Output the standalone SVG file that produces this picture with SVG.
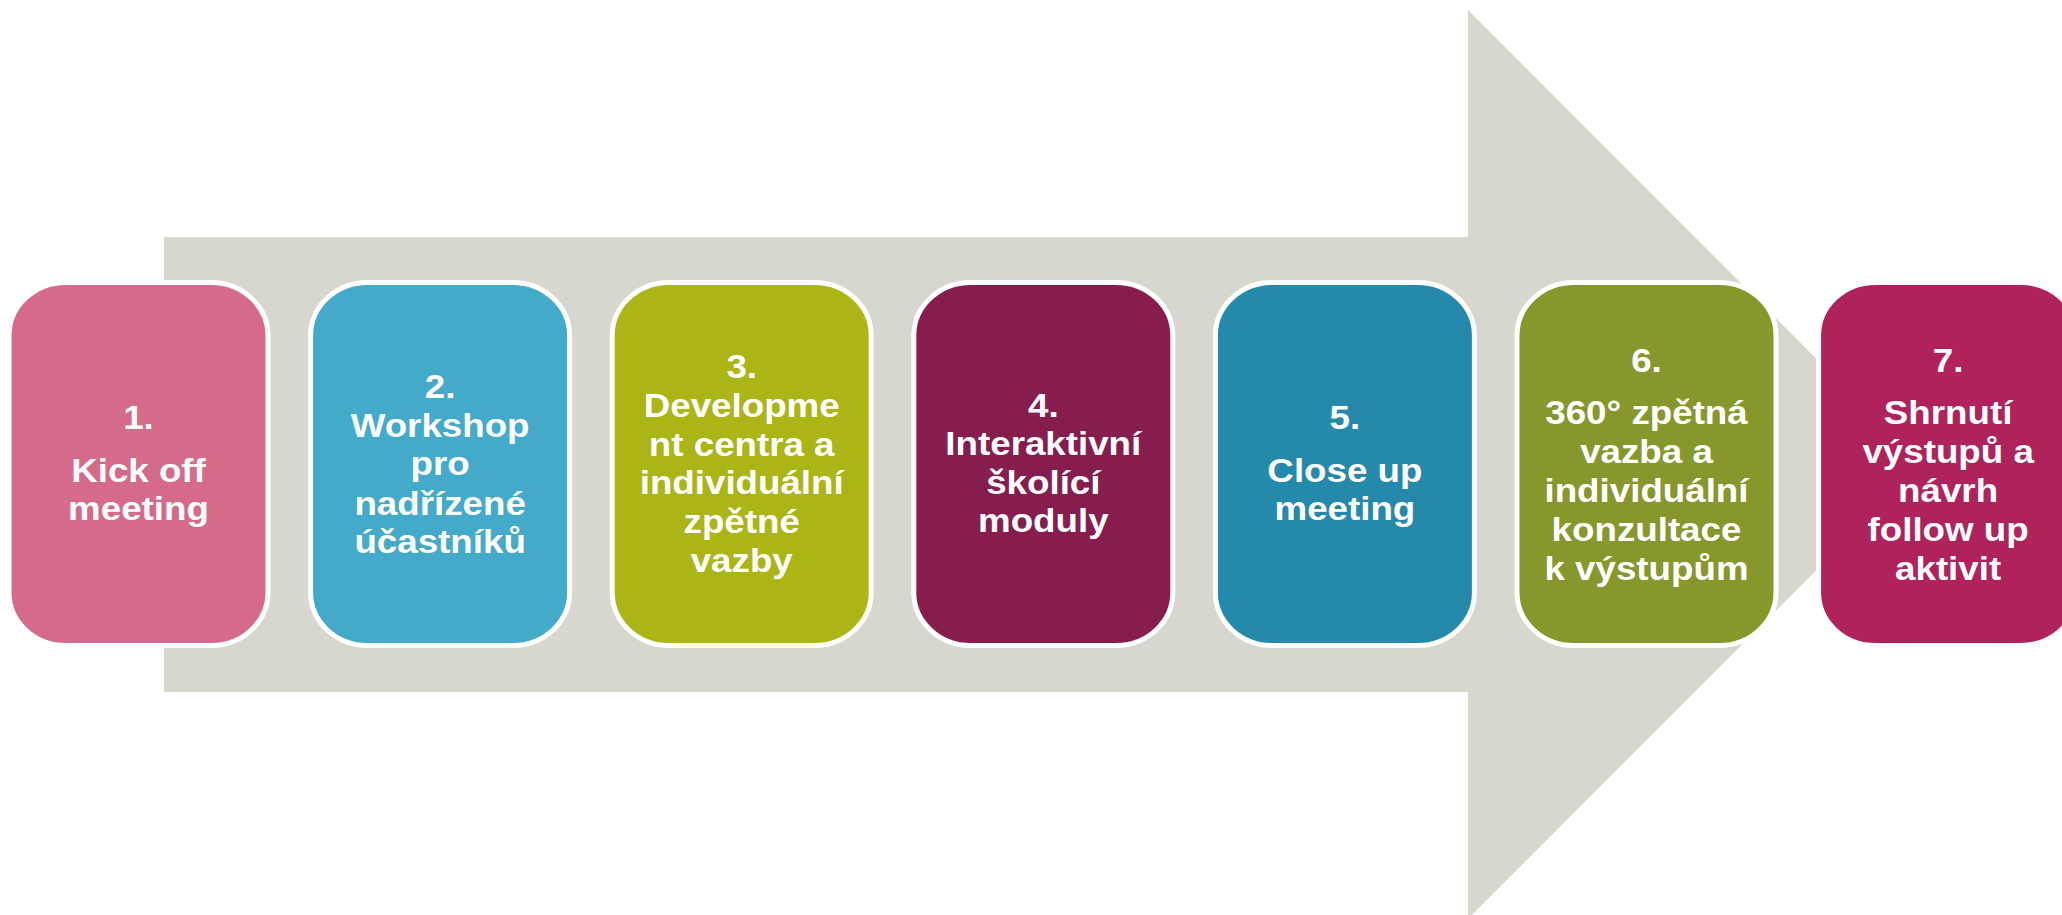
<svg xmlns="http://www.w3.org/2000/svg" width="2062" height="915" viewBox="0 0 2062 915">
<style>
.box{stroke:#ffffff;stroke-width:5}
.t{font-family:"Liberation Sans",Arial,sans-serif;font-weight:bold;font-size:33px;fill:#ffffff;text-anchor:middle}
</style>
<rect width="2062" height="915" fill="#ffffff"/>
<g id="connectors">
<polygon id="arrow" points="164,237 1468,237 1468,10 1922,464.5 1468,919 1468,692 164,692" fill="#D7D7CF"/>
</g>
<g id="node1">
<rect class="box" x="9" y="282.5" width="259" height="363" rx="57" ry="53" fill="#D66A8A"/>
<text class="t" transform="translate(138.5 0) scale(1.113 1)"><tspan x="0" y="429">1.</tspan><tspan x="0" y="482">Kick off</tspan><tspan x="0" y="520">meeting</tspan></text>
</g>
<g id="node2">
<rect class="box" x="310.6" y="282.5" width="259" height="363" rx="57" ry="53" fill="#43AAC9"/>
<text class="t" transform="translate(440.1 0) scale(1.113 1)"><tspan x="0" y="398">2.</tspan><tspan x="0" y="437">Workshop</tspan><tspan x="0" y="475">pro</tspan><tspan x="0" y="515">nadřízené</tspan><tspan x="0" y="553">účastníků</tspan></text>
</g>
<g id="node3">
<rect class="box" x="612.2" y="282.5" width="259" height="363" rx="57" ry="53" fill="#ABB516"/>
<text class="t" transform="translate(741.7 0) scale(1.113 1)"><tspan x="0" y="378">3.</tspan><tspan x="0" y="417">Developme</tspan><tspan x="0" y="456">nt centra a</tspan><tspan x="0" y="494">individuální</tspan><tspan x="0" y="533">zpětné</tspan><tspan x="0" y="572">vazby</tspan></text>
</g>
<g id="node4">
<rect class="box" x="913.8" y="282.5" width="259" height="363" rx="57" ry="53" fill="#871D4F"/>
<text class="t" transform="translate(1043.3 0) scale(1.113 1)"><tspan x="0" y="417">4.</tspan><tspan x="0" y="455">Interaktivní</tspan><tspan x="0" y="494">školící</tspan><tspan x="0" y="532">moduly</tspan></text>
</g>
<g id="node5">
<rect class="box" x="1215.4" y="282.5" width="259" height="363" rx="57" ry="53" fill="#2489AB"/>
<text class="t" transform="translate(1344.9 0) scale(1.113 1)"><tspan x="0" y="429">5.</tspan><tspan x="0" y="482">Close up</tspan><tspan x="0" y="520">meeting</tspan></text>
</g>
<g id="node6">
<rect class="box" x="1517" y="282.5" width="259" height="363" rx="57" ry="53" fill="#87972B"/>
<text class="t" transform="translate(1646.5 0) scale(1.113 1)"><tspan x="0" y="372">6.</tspan><tspan x="0" y="424">360° zpětná</tspan><tspan x="0" y="463">vazba a</tspan><tspan x="0" y="502">individuální</tspan><tspan x="0" y="541">konzultace</tspan><tspan x="0" y="580">k výstupům</tspan></text>
</g>
<g id="node7">
<rect class="box" x="1818.6" y="282.5" width="259" height="363" rx="57" ry="53" fill="#AF225B"/>
<text class="t" transform="translate(1948.1 0) scale(1.113 1)"><tspan x="0" y="372">7.</tspan><tspan x="0" y="424">Shrnutí</tspan><tspan x="0" y="463">výstupů a</tspan><tspan x="0" y="502">návrh</tspan><tspan x="0" y="541">follow up</tspan><tspan x="0" y="580">aktivit</tspan></text>
</g>
</svg>
